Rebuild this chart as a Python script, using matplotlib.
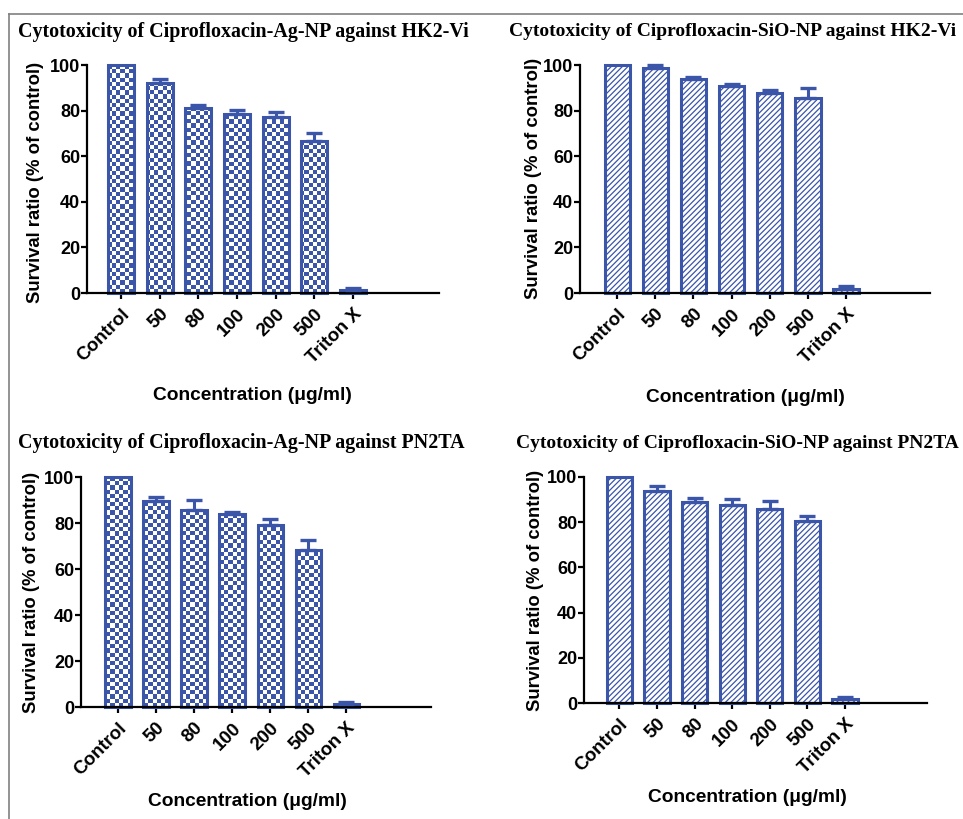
import numpy as np
import matplotlib
matplotlib.use("Agg")
import matplotlib.pyplot as plt
from matplotlib.colors import ListedColormap
from matplotlib.lines import Line2D

# data
categories = ["Control", "50", "80", "100", "200", "500", "Triton X"]

ag_hk2_mean = [100, 92.0, 81.2, 78.3, 77.0, 66.8, 1.4]
ag_hk2_err = [0, 1.8, 1.4, 2.1, 2.6, 3.4, 0.6]

sio_hk2_mean = [100, 98.8, 93.8, 90.8, 87.6, 85.7, 1.8]
sio_hk2_err = [0, 1.0, 1.0, 1.0, 1.6, 4.2, 1.4]

ag_pn2_mean = [100, 89.5, 85.6, 83.7, 79.1, 68.2, 1.4]
ag_pn2_err = [0, 1.8, 4.6, 1.2, 2.8, 4.3, 0.8]

sio_pn2_mean = [100, 94.0, 89.0, 87.5, 85.7, 80.4, 1.6]
sio_pn2_err = [0, 2.2, 1.8, 2.8, 3.8, 2.5, 1.0]

titles = [
    "Cytotoxicity of Ciprofloxacin-Ag-NP against HK2-Vi",
    "Cytotoxicity of Ciprofloxacin-SiO-NP against HK2-Vi",
    "Cytotoxicity of Ciprofloxacin-Ag-NP against PN2TA",
    "Cytotoxicity of Ciprofloxacin-SiO-NP against PN2TA",
]
ylabel = "Survival ratio (% of control)"
xlabel = "Concentration (\u03bcg/ml)"

BLUE = "#3b55a9"
SANS = ["Liberation Sans", "DejaVu Sans"]
SERIF = ["Liberation Serif", "DejaVu Serif"]

plt.rcParams["hatch.linewidth"] = 0.9

W, H = 963, 819
fig = plt.figure(figsize=(W / 100, H / 100), dpi=100)


def px_rect(l, t, r, b):
    return [l / W, 1 - b / H, (r - l) / W, (b - t) / H]


def panel(rect, xlims, means, errs, checker):
    ax = fig.add_axes(px_rect(*rect))
    x = np.arange(len(categories))
    if checker:
        bars = ax.bar(x, means, width=0.67, facecolor="none", edgecolor=BLUE,
                      linewidth=2.2, zorder=2, clip_on=False)
        aw = (rect[2] - rect[0]) / 4.2
        ah = (rect[3] - rect[1]) / 4.2
        board = np.indices((int(round(ah)), int(round(aw)))).sum(axis=0) % 2
        cmap = ListedColormap(["white", BLUE])
        for b in bars:
            im = ax.imshow(board, extent=[0, 1, 0, 1], transform=ax.transAxes,
                           cmap=cmap, interpolation="nearest", aspect="auto",
                           zorder=1)
            im.set_clip_path(b)
    else:
        ax.bar(x, means, width=0.67, facecolor="white", edgecolor=BLUE,
               hatch="//////", linewidth=2.2, zorder=2, clip_on=False)

    idx = [i for i in range(len(errs)) if errs[i] > 0]
    ax.errorbar(x[idx], [means[i] for i in idx],
                yerr=[[0] * len(idx), [errs[i] for i in idx]],
                fmt="none", ecolor=BLUE, elinewidth=2.2, capsize=5.5,
                capthick=2.4, zorder=3, clip_on=False)

    ax.set_xlim(*xlims)
    ax.set_ylim(0, 100)
    ax.set_yticks([0, 20, 40, 60, 80, 100])
    ax.set_xticks(x)
    ax.set_xticklabels(categories, rotation=45, ha="right",
                       rotation_mode="anchor", fontweight="bold",
                       family=SANS, fontsize=13.5)
    for lab in ax.get_yticklabels():
        lab.set_fontweight("bold")
        lab.set_family(SANS)
        lab.set_fontsize(13)
    ax.spines[["top", "right"]].set_visible(False)
    for s in ["left", "bottom"]:
        ax.spines[s].set_linewidth(1.6)
    ax.tick_params(direction="out", length=4, width=1.6, colors="black")
    ax.tick_params(axis="y", pad=1)
    ax.tick_params(axis="x", pad=5)
    return ax


panel((87, 65, 439, 293), (-0.88, 8.22), ag_hk2_mean, ag_hk2_err, True)
panel((580, 65, 930, 293), (-0.98, 8.21), sio_hk2_mean, sio_hk2_err, False)
panel((81, 477, 431, 707), (-0.97, 8.22), ag_pn2_mean, ag_pn2_err, True)
panel((584, 477, 927, 703), (-0.94, 8.18), sio_pn2_mean, sio_pn2_err, False)

# titles, axis labels
title_pos = [(18, 32), (509, 32), (18, 443), (516, 444)]
title_size = [14.4, 14.0, 14.4, 14.0]
for t, (tx, ty), fs in zip(titles, title_pos, title_size):
    fig.text(tx / W, 1 - ty / H, t, family=SERIF, fontweight="bold",
             fontsize=fs, ha="left", va="center")

ylab_pos = [(35, 182), (533, 178), (32, 592), (535, 590)]
for yx, yy in ylab_pos:
    fig.text(yx / W, 1 - yy / H, ylabel, family=SANS, fontweight="bold",
             fontsize=13.3, rotation=90, ha="center", va="center")

xlab_pos = [(252, 395), (745, 397), (247, 802), (747, 797)]
for xx, xy in xlab_pos:
    fig.text(xx / W, 1 - xy / H, xlabel, family=SANS, fontweight="bold",
             fontsize=13.8, ha="center", va="center")

# frame around the figure
fig.add_artist(Line2D([9 / W, 1], [1 - 14 / H, 1 - 14 / H],
                      transform=fig.transFigure, color="#808080", lw=1.2))
fig.add_artist(Line2D([9 / W, 9 / W], [0, 1 - 14 / H],
                      transform=fig.transFigure, color="#808080", lw=1.2))

fig.savefig("out.png", dpi=100)
